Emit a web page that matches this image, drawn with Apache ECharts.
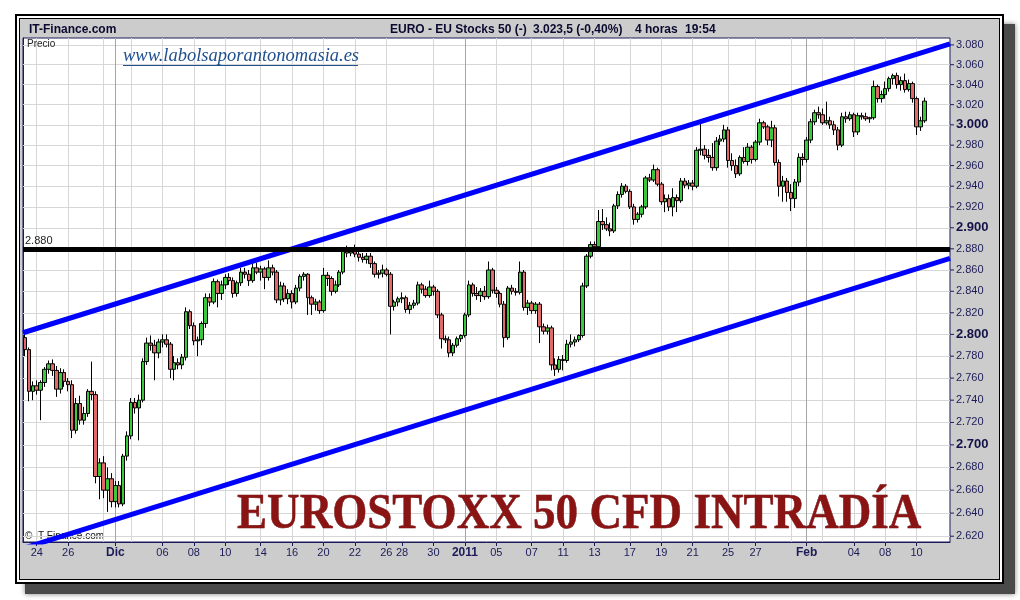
<!DOCTYPE html>
<html><head><meta charset="utf-8">
<script src="https://cdn.jsdelivr.net/npm/echarts@6.0.0/dist/echarts.min.js"></script>
<style>html,body{margin:0;padding:0;background:#fff}#c{width:1020px;height:600px}</style>
</head><body><div id="c"></div>
<script>
// ---- DATA (4-hour bars, EURO STOXX 50 CFD) ----
const open = [
2797,2786,2748,2753,2749,2756,2768,2773,2767,2750,
2765,2757,2754,2713,2737,2722,2728,2748,2745,2672,
2684,2660,2670,2650,2664,2648,2690,2708,2738,2733,
2740,2775,2792,2790,2783,2793,2795,2791,2768,2774,
2772,2779,2821,2808,2794,2795,2810,2834,2830,2849,
2838,2846,2853,2850,2838,2848,2858,2856,2850,2862,
2858,2861,2853,2862,2858,2832,2845,2833,2838,2830,
2843,2854,2856,2834,2828,2830,2822,2855,2852,2840,
2846,2858,2878,2876,2879,2875,2872,2870,2873,2866,
2856,2857,2860,2856,2826,2830,2833,2834,2823,2827,
2829,2846,2842,2836,2844,2840,2818,2796,2795,2783,
2790,2796,2799,2818,2846,2838,2836,2840,2835,2860,
2841,2838,2828,2797,2843,2840,2839,2858,2825,2829,
2822,2828,2807,2803,2806,2772,2768,2777,2776,2791,
2793,2795,2799,2845,2873,2884,2882,2906,2903,2899,
2897,2921,2932,2940,2935,2920,2908,2913,2920,2948,
2946,2956,2942,2925,2928,2920,2929,2926,2945,2941,
2943,2940,2975,2976,2970,2968,2958,2984,2986,2995,
2965,2960,2952,2968,2964,2978,2966,2983,3002,2998,
2985,2997,2963,2940,2945,2934,2928,2944,2968,2966,
2985,3003,3012,3010,3002,3004,3000,2995,2980,3008,
3006,3010,2993,3009,3008,3006,3007,3038,3026,3030,
3036,3046,3049,3040,3044,3035,3041,3026,2998,3004];
const high = [
2803,2788,2757,2758,2758,2770,2776,2777,2771,2769,
2768,2760,2758,2742,2744,2734,2750,2775,2748,2688,
2690,2680,2675,2668,2668,2692,2712,2742,2742,2745,
2778,2797,2799,2795,2796,2800,2800,2793,2780,2778,
2782,2825,2823,2811,2798,2812,2838,2838,2852,2851,
2850,2856,2857,2853,2850,2862,2862,2860,2866,2867,
2864,2863,2869,2865,2860,2849,2848,2842,2841,2846,
2856,2858,2857,2836,2833,2832,2862,2858,2854,2850,
2860,2880,2883,2881,2884,2878,2876,2876,2876,2868,
2860,2865,2862,2858,2832,2835,2839,2836,2830,2832,
2849,2848,2845,2850,2846,2842,2820,2799,2798,2792,
2798,2800,2820,2850,2848,2844,2843,2845,2868,2862,
2844,2840,2831,2845,2846,2843,2868,2860,2832,2831,
2830,2830,2810,2809,2808,2778,2780,2781,2795,2800,
2798,2800,2848,2875,2887,2887,2917,2918,2910,2905,
2923,2935,2943,2942,2937,2923,2915,2922,2950,2952,
2961,2958,2944,2932,2932,2938,2932,2948,2948,2946,
2946,2978,3002,2980,2976,2982,2988,2990,3000,2998,
2972,2966,2970,2978,2982,2980,2985,3006,3004,3000,
3004,3000,2966,2950,2948,2942,2947,2972,2972,2988,
3006,3015,3018,3016,3023,3008,3004,2998,3012,3013,
3013,3012,3012,3012,3012,3008,3044,3040,3034,3043,
3048,3051,3052,3048,3051,3045,3043,3028,3008,3027];
const low = [
2780,2739,2740,2745,2722,2752,2764,2762,2743,2746,
2752,2748,2706,2710,2718,2718,2725,2740,2666,2652,
2653,2641,2645,2645,2645,2646,2686,2705,2728,2704,
2738,2772,2785,2758,2778,2788,2788,2760,2758,2768,
2768,2776,2805,2790,2780,2790,2806,2826,2828,2825,
2832,2842,2846,2834,2835,2845,2852,2845,2848,2856,
2850,2842,2850,2855,2829,2827,2830,2828,2824,2828,
2840,2850,2818,2818,2822,2819,2820,2845,2836,2838,
2844,2856,2872,2873,2872,2868,2867,2866,2862,2853,
2852,2853,2854,2800,2822,2826,2829,2820,2819,2824,
2827,2838,2834,2834,2836,2815,2787,2792,2779,2780,
2788,2793,2797,2816,2835,2832,2830,2832,2833,2838,
2834,2825,2788,2795,2837,2836,2837,2822,2818,2819,
2819,2792,2800,2800,2767,2762,2765,2767,2774,2788,
2789,2793,2797,2843,2871,2880,2880,2898,2897,2892,
2895,2918,2929,2933,2918,2903,2905,2910,2918,2944,
2944,2940,2922,2915,2916,2911,2915,2924,2938,2937,
2936,2938,2970,2966,2963,2955,2955,2980,2983,2958,
2955,2948,2950,2962,2960,2962,2964,2980,2996,2980,
2978,2960,2930,2925,2925,2916,2919,2940,2960,2963,
2982,3000,3006,3000,3000,2996,2990,2975,2978,3002,
3004,2988,2990,3005,3004,3002,3005,3022,3022,3026,
3033,3040,3036,3034,3032,3033,3022,2990,2994,3002];
const close = [
2786,2748,2753,2749,2756,2768,2773,2767,2750,2765,
2757,2754,2713,2737,2722,2728,2748,2745,2672,2684,
2660,2670,2650,2664,2648,2690,2708,2738,2733,2740,
2775,2792,2790,2783,2793,2795,2791,2768,2774,2772,
2779,2821,2808,2794,2795,2810,2834,2830,2849,2838,
2846,2853,2850,2838,2848,2858,2856,2850,2862,2858,
2861,2853,2862,2858,2832,2845,2833,2838,2830,2843,
2854,2856,2834,2828,2830,2822,2855,2852,2840,2846,
2858,2878,2876,2879,2875,2872,2870,2873,2866,2856,
2857,2860,2856,2826,2830,2833,2834,2823,2827,2829,
2846,2842,2836,2844,2840,2818,2796,2795,2783,2790,
2796,2799,2818,2846,2838,2836,2840,2835,2860,2841,
2838,2828,2797,2843,2840,2839,2858,2825,2829,2822,
2828,2807,2803,2806,2772,2768,2777,2776,2791,2793,
2795,2799,2845,2873,2884,2882,2906,2903,2899,2897,
2921,2932,2940,2935,2920,2908,2913,2920,2948,2946,
2956,2942,2925,2928,2920,2929,2926,2945,2941,2943,
2940,2975,2976,2970,2968,2958,2984,2986,2995,2965,
2960,2952,2968,2964,2978,2966,2983,3002,2998,2985,
2997,2963,2940,2945,2934,2928,2944,2968,2966,2985,
3003,3012,3010,3002,3004,3000,2995,2980,3008,3006,
3010,2993,3009,3008,3006,3007,3038,3026,3030,3036,
3046,3049,3040,3044,3035,3041,3026,2998,3004,3023.5];

const totalSlots = 236; // bar slots on the time axis (incl. empty space on the right)
const tickIdx  = [3,11,23,35,43,51,60,68,76,84,92,96,104,112,120,129,137,145,154,162,170,179,186,199,211,219,227];
const tickText = ['24','26','Dic','06','08','10','14','16','20','22','26','28','30','2011','05','07','11','13','17','19','21','25','27','Feb','04','08','10'];
const boldTicks = ['Dic','2011','Feb'];
const gridIdx  = [3,11,20,27,35,43,51,60,68,76,84,92,104,120,129,137,145,154,162,170,179,186,195,203,211,219,227];
const monthIdx = [23,112,199];
const yTicks = [2620,2640,2660,2680,2700,2720,2740,2760,2780,2800,2820,2840,2860,2880,2900,2920,2940,2960,2980,3000,3020,3040,3060,3080];
const yMinor = [2630,2650,2670,2690,2710,2730,2750,2770,2790,2810,2830,2850,2870,2890,2910,2930,2950,2970,2990,3010,3030,3050,3070];
const yLabels = ['2.620','2.640','2.660','2.680','2.700','2.720','2.740','2.760','2.780','2.800','2.820','2.840','2.860','2.880','2.900','2.920','2.940','2.960','2.980','3.000','3.020','3.040','3.060','3.080'];
const levelValue = 2880, levelLabel = '2.880';
const upperChannel = [2801.5, 3081];
const lowerChannel = [2609.5, 2871];
const lastPrice = 3023.5, lastPriceLabel = '3.023,5';

// ---- CHART ----
const NAVY = '#1b1b58';
const SANS = '"Liberation Sans", Arial, sans-serif';
const cats = Array.from({length: totalSlots}, (_, i) => String(i));
const tickSet = new Set(tickIdx);
const candles = open.map((o, i) => [o, close[i], low[i], high[i]]);

const gridLines = [];
yTicks.forEach((v, k) => {
  const t = yLabels[k];
  const bold = (v % 100 === 0);
  gridLines.push({yAxis: v, lineStyle: {color: '#d6d6d6', width: 1, type: 'solid'},
    label: {show: true, position: 'end', distance: 0, formatter: '{tk| }' + (bold ? '{big|' + t + '}' : '{n|' + t + '}')}});
});
yMinor.forEach(v => {
  gridLines.push({yAxis: v, lineStyle: {opacity: 0}, label: {show: true, position: 'end', distance: 0, formatter: '{tm| }'}});
});
gridIdx.forEach(i => gridLines.push({xAxis: i, lineStyle: {color: '#d6d6d6', width: 1, type: 'solid'}, label: {show: false}}));
monthIdx.forEach(i => gridLines.push({xAxis: i, lineStyle: {color: '#a5a5a5', width: 1, type: 'solid'}, label: {show: false}}));

const chart = echarts.init(document.getElementById('c'), null, {renderer: 'canvas', width: 1020, height: 600});
chart.setOption({
  animation: false,
  backgroundColor: '#ffffff',
  grid: {left: 23, top: 38, right: 70, bottom: 58, show: true, backgroundColor: '#ffffff', borderColor: NAVY, borderWidth: 1},
  xAxis: [{
    type: 'category', data: cats, boundaryGap: true,
    axisLine: {show: true, lineStyle: {color: NAVY}},
    axisTick: {show: true, alignWithLabel: true, length: 4, interval: (i) => tickSet.has(i), lineStyle: {color: NAVY}},
    axisLabel: {
      interval: (i) => tickSet.has(i), margin: 5, color: NAVY, fontSize: 11, fontFamily: SANS,
      formatter: (v) => { const t = tickText[tickIdx.indexOf(+v)] || ''; return boldTicks.includes(t) ? '{bd|' + t + '}' : t; },
      rich: {bd: {fontWeight: 'bold', fontSize: 12, color: NAVY, fontFamily: SANS}}
    },
    splitLine: {show: false}
  }, {
    type: 'value', min: 0, max: 1, show: false
  }],
  yAxis: [{
    type: 'log', logBase: 10, min: 2615, max: 3087, position: 'right',
    axisLine: {show: true, lineStyle: {color: NAVY}},
    axisTick: {show: false}, axisLabel: {show: false}, splitLine: {show: false}, minorTick: {show: false}
  }],
  series: [{
    type: 'line', name: 'grid', data: [], xAxisIndex: 0, yAxisIndex: 0, z: 1, silent: true, clip: false,
    markLine: {
      z: 1, silent: true, symbol: 'none', animation: false,
      lineStyle: {type: 'solid'},
      label: {
        color: NAVY, fontFamily: SANS,
        rich: {
          tk: {width: 4, height: 1, backgroundColor: NAVY},
          tm: {width: 2, height: 1, backgroundColor: NAVY},
          n: {fontSize: 11, color: NAVY, fontFamily: SANS, padding: [0, 0, 0, 2]},
          big: {fontSize: 13, fontWeight: 'bold', color: '#121248', fontFamily: SANS, padding: [0, 0, 0, 2]}
        }
      },
      data: gridLines
    }
  }, {
    type: 'candlestick', name: 'EURO - EU Stocks 50', data: candles, xAxisIndex: 0, yAxisIndex: 0, z: 2,
    barWidth: 4,
    itemStyle: {color: '#3cc83c', color0: '#e06a6a', borderColor: '#000000', borderColor0: '#000000', borderWidth: 1}
  }, {
    type: 'line', name: 'upper', xAxisIndex: 1, yAxisIndex: 0, z: 3, silent: true, symbol: 'none',
    data: [[0, upperChannel[0]], [1, upperChannel[1]]], lineStyle: {color: '#0000ff', width: 5}
  }, {
    type: 'line', name: 'lower', xAxisIndex: 1, yAxisIndex: 0, z: 3, silent: true, symbol: 'none',
    data: [[0, lowerChannel[0]], [1, lowerChannel[1]]], lineStyle: {color: '#0000ff', width: 5}
  }, {
    type: 'line', name: 'level', data: [], xAxisIndex: 0, yAxisIndex: 0, z: 4, silent: true, clip: false,
    markLine: {
      z: 4, silent: true, symbol: 'none', animation: false,
      data: [
        {yAxis: levelValue, lineStyle: {color: '#000000', width: 5, type: 'solid'},
          label: {show: true, position: 'insideStartTop', distance: 2, formatter: levelLabel, color: '#222', fontSize: 11, fontFamily: SANS}},
        {yAxis: lastPrice, lineStyle: {opacity: 0},
          label: {show: true, position: 'end', distance: 4, formatter: lastPriceLabel, color: '#000', fontSize: 11, fontFamily: SANS,
            backgroundColor: '#ffcc00', borderColor: '#000', borderWidth: 1, padding: [1, 2, 0, 2]}}
      ]
    }
  }],
  graphic: {elements: [
    {type: 'rect', z: -10, silent: true, shape: {x: 25, y: 24, width: 990, height: 570}, style: {fill: '#4a4a4a', shadowBlur: 5, shadowColor: 'rgba(0,0,0,0.5)'}},
    {type: 'rect', z: -9, silent: true, shape: {x: 15, y: 14, width: 989, height: 570}, style: {fill: '#000'}},
    {type: 'rect', z: -8, silent: true, shape: {x: 17, y: 16, width: 985, height: 566}, style: {fill: '#fff'}},
    {type: 'rect', z: -7, silent: true, shape: {x: 19, y: 18, width: 981, height: 562}, style: {fill: '#000'}},
    {type: 'rect', z: -6, silent: true, shape: {x: 20, y: 19, width: 979, height: 560}, style: {fill: '#cccccc'}},
    {type: 'text', z: 5, silent: true, x: 29, y: 30, style: {text: 'IT-Finance.com', font: 'bold 12px ' + SANS, fill: '#0a0a30', textVerticalAlign: 'middle', verticalAlign: 'middle'}},
    {type: 'text', z: 5, silent: true, x: 390, y: 30, style: {text: 'EURO - EU Stocks 50 (-)', font: 'bold 12px ' + SANS, fill: '#0a0a30', textVerticalAlign: 'middle', verticalAlign: 'middle'}},
    {type: 'text', z: 5, silent: true, x: 533, y: 30, style: {text: '3.023,5 (-0,40%)', font: 'bold 12px ' + SANS, fill: '#0a0a30', textVerticalAlign: 'middle', verticalAlign: 'middle'}},
    {type: 'text', z: 5, silent: true, x: 635, y: 30, style: {text: '4 horas', font: 'bold 12px ' + SANS, fill: '#0a0a30', textVerticalAlign: 'middle', verticalAlign: 'middle'}},
    {type: 'text', z: 5, silent: true, x: 685, y: 30, style: {text: '19:54', font: 'bold 12px ' + SANS, fill: '#0a0a30', textVerticalAlign: 'middle', verticalAlign: 'middle'}},
    {type: 'text', z: 5, silent: true, x: 27, y: 44, style: {text: 'Precio', font: '10px ' + SANS, fill: '#222', textVerticalAlign: 'middle', verticalAlign: 'middle'}},
    {type: 'text', z: 5, silent: true, x: 123, y: 56, style: {text: 'www.labolsaporantonomasia.es', font: 'italic 18.5px "Liberation Serif", serif', fill: '#1f4f8f', textVerticalAlign: 'middle', verticalAlign: 'middle'}},
    {type: 'line', z: 5, silent: true, shape: {x1: 123, y1: 65.5, x2: 358, y2: 65.5}, style: {stroke: '#1f4f8f', lineWidth: 1}},
    {type: 'text', z: 1, silent: true, x: 25, y: 536, style: {text: '© IT-Finance.com', font: '10px ' + SANS, fill: '#111', textVerticalAlign: 'middle', verticalAlign: 'middle'}},
    {type: 'group', z: 6, silent: true, x: 237, y: 515, scaleX: 0.835, scaleY: 0.95, children: [
      {type: 'text', z: 6, silent: true, x: 0, y: 0, style: {text: 'EUROSTOXX 50 CFD INTRADÍA', font: 'bold 54px "Liberation Serif", serif', fill: '#8a1313',
        stroke: '#5a0000', lineWidth: 0.5, shadowColor: 'rgba(0,0,0,0.35)', shadowBlur: 2, shadowOffsetX: 2, shadowOffsetY: 2,
        textVerticalAlign: 'middle', verticalAlign: 'middle'}}
    ]}
  ]}
});
</script>
</body></html>
